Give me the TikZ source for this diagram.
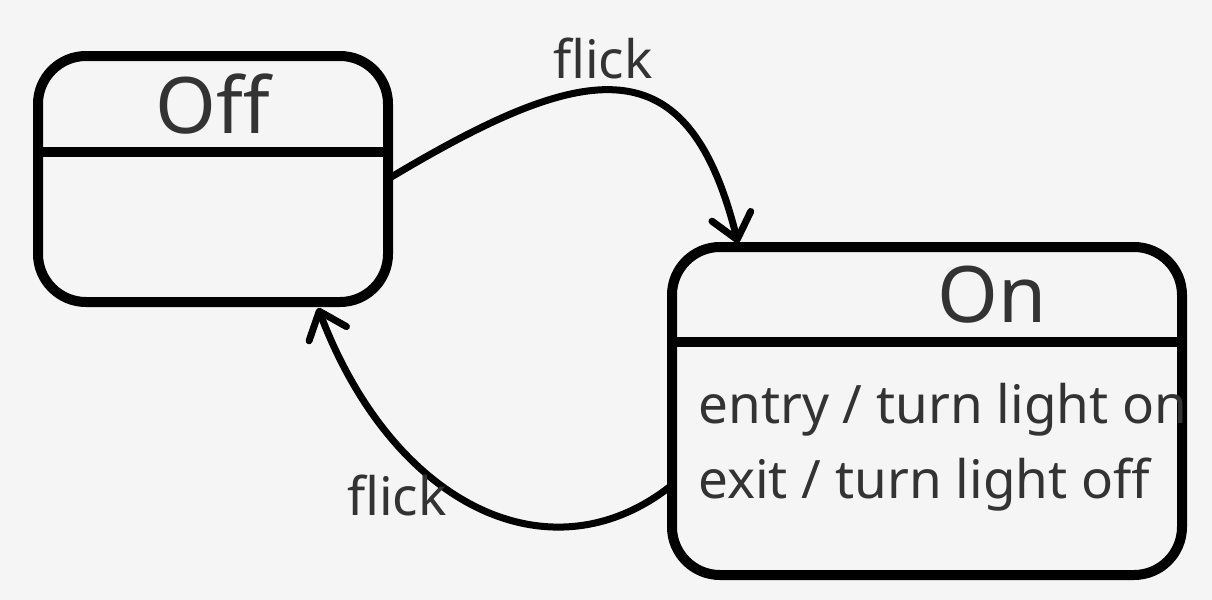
\documentclass[tikz,border=0pt]{standalone}
\usepackage{fontspec}
\setmainfont{Noto Sans}
\usetikzlibrary{arrows.meta}
\definecolor{bgc}{HTML}{F5F5F5}
\definecolor{txt}{HTML}{333333}
\begin{document}
\begin{tikzpicture}[x=0.5pt,y=-0.5pt]
\tikzstyle{state}=[draw, line width=5pt, rounded corners=24pt, inner sep=0pt, outer sep=0pt]
\tikzstyle{title}=[text=txt, font=\fontsize{39pt}{44pt}\selectfont]
\tikzstyle{body}=[text=txt, font=\fontsize{26.5pt}{32pt}\selectfont, inner sep=0pt]
\tikzstyle{trans}=[line width=3.5pt, line cap=round, -{Straight Barb[length=12pt,width=20pt,round]}]
\path[use as bounding box, fill=bgc] (0,0) rectangle (1212,600);
\node[state, minimum width=175pt, minimum height=123pt] (off) at (213,179) {};
\node[state, minimum width=255pt, minimum height=164pt] (on) at (927,411) {};
\draw[line width=5pt] ([yshift=-48pt]off.north west) -- ([yshift=-48pt]off.north east);
\draw[line width=5pt] ([yshift=-47.5pt]on.north west) -- ([yshift=-47.5pt]on.north east);
\node[title] (offname) at (213,104) {Off};
\node[title] (onname) at (992,295) {On};
\node[body, anchor=base west] (entry) at (698,423) {entry / turn light on};
\node[body, anchor=base west] (exit) at (698,498) {exit / turn light off};
\coordinate (onin) at ([xshift=33pt,yshift=2pt]on.north west);
\coordinate (onout) at ([yshift=-37pt]on.west);
\coordinate (offin) at ([xshift=-35pt,yshift=-3pt]off.south east);
\draw[trans] (off.east) .. controls +(200,-120) and +(-50,-200) .. (onin);
\draw[trans] (onout) .. controls +(-120,96) and +(76,200) .. (offin);
\node[body, anchor=base] (flick1) at (603,78) {flick};
\node[body, anchor=base] (flick2) at (397,515) {flick};
\end{tikzpicture}
\end{document}
